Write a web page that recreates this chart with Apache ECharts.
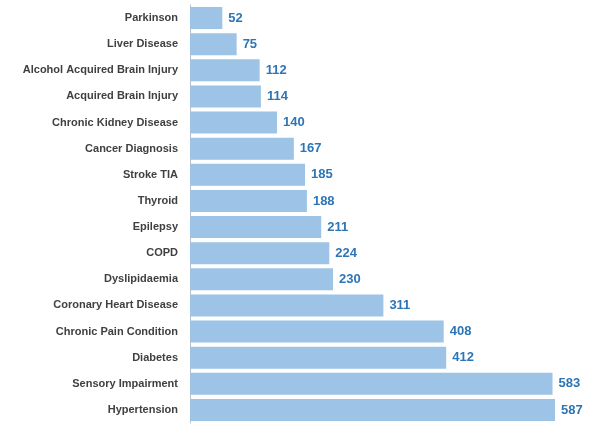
<!DOCTYPE html>
<html><head><meta charset="utf-8">
<script src="https://cdn.jsdelivr.net/npm/echarts@6/dist/echarts.min.js"></script>
<style>html,body{margin:0;padding:0;background:#fff}#c{width:593px;height:430px}</style>
</head><body><div id="c"></div>
<script>
const categories = ["Parkinson","Liver Disease","Alcohol Acquired Brain Injury","Acquired Brain Injury","Chronic Kidney Disease","Cancer Diagnosis","Stroke TIA","Thyroid","Epilepsy","COPD","Dyslipidaemia","Coronary Heart Disease","Chronic Pain Condition","Diabetes","Sensory Impairment","Hypertension"];
const values = [52,75,112,114,140,167,185,188,211,224,230,311,408,412,583,587];
const chart = echarts.init(document.getElementById('c'));
chart.setOption({
  animation:false,
  grid:{left:190,right:38,top:5,bottom:7,containLabel:false},
  xAxis:{type:'value',min:0,max:587,show:false},
  yAxis:{type:'category',inverse:true,data:categories,
    axisLine:{show:true,lineStyle:{color:'#bfbfbf'}},axisTick:{show:false},
    axisLabel:{color:'#404040',fontWeight:'bold',fontSize:11,fontFamily:'Liberation Sans, Arial',margin:12}},
  series:[{type:'bar',data:values,barCategoryGap:'16%',
    itemStyle:{color:'#9DC3E6'},
    label:{show:true,position:'right',color:'#2E75B6',fontWeight:'bold',fontSize:13,fontFamily:'Liberation Sans, Arial',distance:6}}]
});
</script></body></html>
